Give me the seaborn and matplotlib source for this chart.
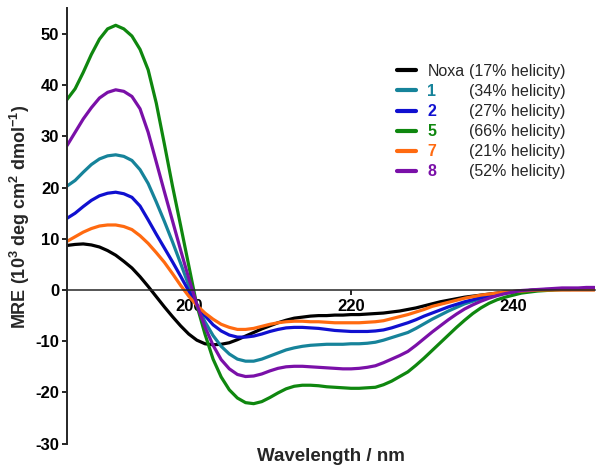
import numpy as np
import pandas as pd
import matplotlib.pyplot as plt
import seaborn as sns

# CD spectra, 1 nm steps from 185 to 250 nm
wavelength = np.arange(185, 251)

noxa = [8.7, 8.9, 9.0, 8.8, 8.4, 7.7, 6.8, 5.6, 4.3, 2.6,
        0.7, -1.3, -3.3, -5.2, -7.0, -8.6, -9.8, -10.5, -10.7, -10.6,
        -10.3, -9.7, -9.0, -8.3, -7.6, -7.0, -6.4, -5.9, -5.5, -5.3,
        -5.1, -5.0, -5.0, -4.9, -4.9, -4.8, -4.8, -4.7, -4.6, -4.5,
        -4.3, -4.1, -3.8, -3.5, -3.1, -2.7, -2.3, -2.0, -1.7, -1.4,
        -1.2, -1.0, -0.8, -0.6, -0.4, -0.3, -0.2, -0.1, 0.0, 0.0,
        0.1, 0.1, 0.1, 0.1, 0.1, 0.1]
pep1 = [20.3, 21.4, 23.0, 24.5, 25.6, 26.2, 26.4, 26.1, 25.3, 23.5,
        20.8, 17.2, 13.4, 9.4, 5.2, 0.9, -2.9, -6.2, -8.9, -11.0,
        -12.5, -13.5, -13.9, -13.9, -13.5, -12.9, -12.3, -11.7, -11.3, -11.0,
        -10.8, -10.7, -10.6, -10.6, -10.6, -10.5, -10.5, -10.4, -10.2, -9.8,
        -9.3, -8.8, -8.3, -7.5, -6.6, -5.7, -4.9, -4.1, -3.4, -2.7,
        -2.2, -1.7, -1.3, -0.9, -0.6, -0.4, -0.2, -0.1, 0.0, 0.0,
        0.1, 0.1, 0.1, 0.1, 0.1, 0.1]
pep2 = [14.0, 15.0, 16.3, 17.5, 18.4, 18.9, 19.1, 18.8, 18.1, 16.4,
        13.7, 10.9, 8.2, 5.5, 2.7, -0.2, -2.9, -5.0, -6.8, -8.0,
        -8.8, -9.2, -9.2, -9.0, -8.6, -8.1, -7.7, -7.4, -7.3, -7.3,
        -7.4, -7.5, -7.7, -7.9, -8.0, -8.1, -8.1, -8.1, -8.0, -7.8,
        -7.4, -6.9, -6.4, -5.8, -5.1, -4.5, -3.9, -3.3, -2.8, -2.3,
        -1.9, -1.5, -1.1, -0.8, -0.5, -0.3, -0.2, -0.1, 0.0, 0.1,
        0.1, 0.2, 0.2, 0.2, 0.2, 0.2]
pep5 = [37.2, 39.3, 42.5, 46.0, 49.0, 51.0, 51.7, 51.0, 49.6, 47.0,
        43.0, 36.5, 28.5, 20.3, 12.6, 4.8, -3.0, -8.6, -13.5, -17.0,
        -19.5, -21.1, -22.0, -22.2, -21.8, -21.0, -20.1, -19.3, -18.8, -18.6,
        -18.6, -18.7, -18.9, -19.0, -19.1, -19.2, -19.2, -19.1, -19.0, -18.5,
        -17.8, -16.9, -16.0, -14.7, -13.3, -11.8, -10.3, -8.8, -7.3, -5.9,
        -4.6, -3.5, -2.6, -1.9, -1.4, -1.0, -0.6, -0.4, -0.2, -0.1,
        0.0, 0.1, 0.1, 0.2, 0.2, 0.2]
pep7 = [9.5, 10.4, 11.3, 12.0, 12.5, 12.7, 12.7, 12.4, 11.8, 10.6,
        9.1, 7.3, 5.4, 3.2, 0.9, -1.2, -3.0, -4.5, -5.7, -6.7,
        -7.3, -7.7, -7.7, -7.5, -7.1, -6.7, -6.4, -6.2, -6.1, -6.1,
        -6.2, -6.2, -6.3, -6.4, -6.4, -6.4, -6.4, -6.3, -6.2, -6.0,
        -5.6, -5.2, -4.8, -4.3, -3.8, -3.2, -2.8, -2.4, -2.0, -1.6,
        -1.3, -1.0, -0.8, -0.6, -0.4, -0.3, -0.2, -0.1, 0.0, 0.0,
        0.0, 0.0, 0.0, 0.0, 0.0, 0.0]
pep8 = [28.2, 30.8, 33.4, 35.6, 37.5, 38.6, 39.1, 38.8, 37.8, 35.4,
        30.8, 25.0, 19.2, 13.5, 7.8, 2.3, -2.8, -7.2, -10.8, -13.6,
        -15.4, -16.5, -16.9, -16.8, -16.4, -15.8, -15.3, -15.0, -14.9, -14.9,
        -15.0, -15.1, -15.2, -15.3, -15.4, -15.4, -15.3, -15.1, -14.8, -14.2,
        -13.5, -12.8, -12.0, -10.8, -9.5, -8.2, -7.0, -5.8, -4.7, -3.7,
        -2.9, -2.2, -1.6, -1.1, -0.7, -0.4, -0.1, 0.0, 0.1, 0.2,
        0.3, 0.4, 0.4, 0.4, 0.5, 0.5]

names = ["Noxa", "1", "2", "5", "7", "8"]
helicity = ["(17% helicity)", "(34% helicity)", "(27% helicity)",
            "(66% helicity)", "(21% helicity)", "(52% helicity)"]
colors = ["#000000", "#16839a", "#1010d0", "#0f870f", "#ff6a10", "#7a10a8"]


def main():
    series = [noxa, pep1, pep2, pep5, pep7, pep8]
    df = pd.DataFrame({
        "wavelength": np.tile(wavelength, len(series)),
        "mre": np.concatenate(series),
        "sample": np.repeat(names, len(wavelength)),
    })

    sns.set_style("ticks")
    plt.rcParams['font.family'] = ['Liberation Sans', 'DejaVu Sans']
    plt.rcParams['mathtext.default'] = 'regular'
    plt.rcParams['axes.unicode_minus'] = False

    fig = plt.figure(figsize=(6.02, 4.75), dpi=100)
    ax = fig.add_axes([67 / 602, 31.4 / 475, 527.5 / 602, 435.2 / 475])

    sns.lineplot(data=df, x="wavelength", y="mre", hue="sample", hue_order=names,
                 palette=dict(zip(names, colors)), linewidth=2.3, ax=ax, legend=False,
                 solid_joinstyle='round', solid_capstyle='round')

    ax.set_xlim(185, 250)
    ax.set_ylim(-30, 55)
    ax.set_xticks([200, 220, 240])
    ax.set_yticks(range(-30, 51, 10))
    ax.set_axisbelow(True)

    ax.spines['top'].set_visible(False)
    ax.spines['right'].set_visible(False)
    ax.spines['bottom'].set_position(('data', 0))
    ax.spines['bottom'].set_linewidth(1.1)
    ax.spines['left'].set_linewidth(1.4)
    ax.spines['left'].set_bounds(-30, 55)

    ax.tick_params(axis='both', direction='out', length=3.5, width=1.2,
                   labelsize=12, colors='black')
    ax.tick_params(axis='x', pad=3)
    ax.tick_params(axis='y', pad=2)
    for lbl in ax.get_xticklabels() + ax.get_yticklabels():
        lbl.set_fontweight('bold')

    ax.set_ylabel(r'MRE (10$^3$ deg cm$^2$ dmol$^{-1}$)', fontsize=13,
                  fontweight='bold')
    ax.yaxis.set_label_coords(-0.066, 0.521)
    ax.set_xlabel('Wavelength / nm', fontsize=13.5, fontweight='bold')
    ax.xaxis.set_label_coords(0.5, -0.01)

    leg = ax.legend(ax.get_lines()[:len(names)], names, loc='upper left',
                    bbox_to_anchor=(0.6256, 0.8724), frameon=False, fontsize=11.5,
                    handlelength=1.2, handletextpad=0.7, labelspacing=0.32,
                    borderpad=0, borderaxespad=0)
    for line in leg.get_lines():
        line.set_linewidth(3)
    for txt, col in zip(leg.get_texts()[1:], colors[1:]):
        txt.set_color(col)
        txt.set_fontweight('bold')

    # helicity column, aligned with the legend rows
    fig.canvas.draw()
    for txt, hel in zip(leg.get_texts(), helicity):
        bb = txt.get_window_extent()
        yc = (bb.y0 + bb.y1) / 2
        fig.text(469 / 602, yc / fig.bbox.height, hel, va='center', fontsize=11.5)

    fig.savefig("out.png", dpi=100)
    plt.close()


if __name__ == "__main__":
    main()
